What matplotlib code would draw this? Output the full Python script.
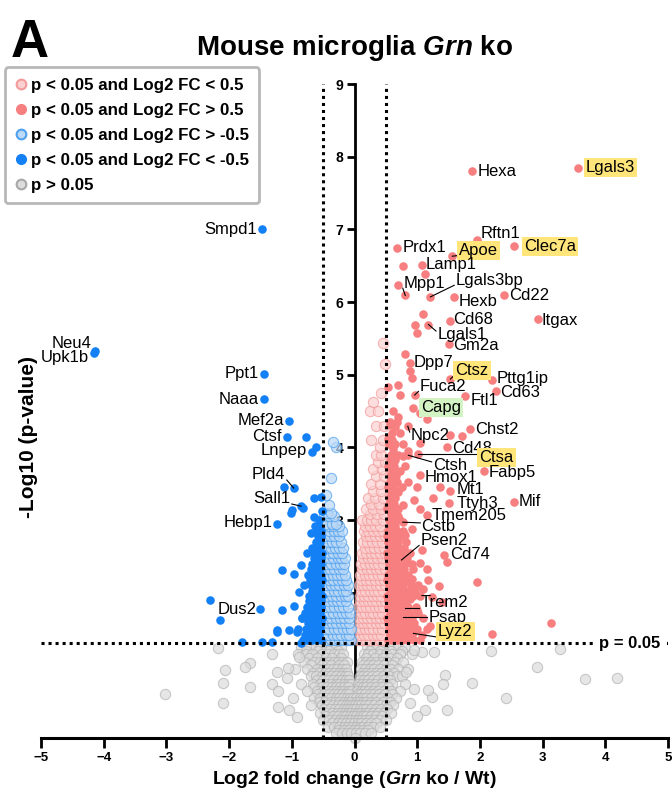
import matplotlib.pyplot as plt
from matplotlib.lines import Line2D

plt.rcParams['font.family'] = ['Liberation Sans', 'DejaVu Sans']
plt.rcParams['mathtext.fontset'] = 'custom'
plt.rcParams['mathtext.rm'] = 'Liberation Sans'
plt.rcParams['mathtext.it'] = 'Liberation Sans:italic'
plt.rcParams['mathtext.bf'] = 'Liberation Sans:bold'
plt.rcParams['mathtext.bfit'] = 'Liberation Sans:italic:bold'

# ---- datos (log2 FC, -log10 p) ----
# p > 0.05
grey_pts = [
    (-0.85, 1.25), (-0.72, 1.25), (-0.62, 1.25), (-0.55, 1.25), (-0.45, 1.25), (-0.38, 1.25), (-0.30, 1.25), (-0.22, 1.25),
    (0.20, 1.25), (0.28, 1.25), (0.36, 1.25), (0.45, 1.25), (0.55, 1.25), (0.62, 1.25), (0.70, 1.25), (0.80, 1.25),
    (-0.78, 1.20), (-0.58, 1.20), (-0.41, 1.20), (-0.27, 1.20), (0.24, 1.20), (0.41, 1.20), (0.58, 1.20), (0.75, 1.20),
    (-0.90, 1.15), (-0.78, 1.15), (-0.68, 1.15), (-0.52, 1.15), (-0.42, 1.15), (-0.33, 1.15), (-0.25, 1.15), (-0.18, 1.15),
    (0.15, 1.15), (0.22, 1.15), (0.30, 1.15), (0.40, 1.15), (0.50, 1.15), (0.60, 1.15), (0.72, 1.15), (0.92, 1.15),
    (-0.72, 1.10), (-0.60, 1.10), (-0.46, 1.10), (-0.36, 1.10), (-0.22, 1.10), (0.19, 1.10), (0.33, 1.10), (0.46, 1.10),
    (0.56, 1.10), (0.68, 1.10),
    (-0.80, 1.05), (-0.65, 1.05), (-0.55, 1.05), (-0.48, 1.05), (-0.40, 1.05), (-0.32, 1.05), (-0.26, 1.05), (-0.20, 1.05),
    (-0.12, 1.05), (0.12, 1.05), (0.18, 1.05), (0.26, 1.05), (0.35, 1.05), (0.44, 1.05), (0.52, 1.05), (0.65, 1.05), (0.78, 1.05),
    (-0.70, 1.00), (-0.52, 1.00), (-0.44, 1.00), (-0.37, 1.00), (-0.24, 1.00), (-0.16, 1.00), (0.14, 1.00), (0.21, 1.00),
    (0.29, 1.00), (0.38, 1.00), (0.47, 1.00), (0.60, 1.00),
    (-0.95, 0.95), (-0.75, 0.95), (-0.60, 0.95), (-0.50, 0.95), (-0.42, 0.95), (-0.35, 0.95), (-0.28, 0.95), (-0.20, 0.95),
    (-0.14, 0.95), (0.10, 0.95), (0.17, 0.95), (0.24, 0.95), (0.31, 0.95), (0.40, 0.95), (0.50, 0.95), (0.58, 0.95),
    (0.70, 0.95), (0.85, 0.95),
    (-0.66, 0.90), (-0.56, 0.90), (-0.47, 0.90), (-0.40, 0.90), (-0.33, 0.90), (-0.25, 0.90), (-0.18, 0.90), (-0.12, 0.90),
    (0.12, 0.90), (0.19, 0.90), (0.26, 0.90), (0.34, 0.90), (0.43, 0.90), (0.52, 0.90), (0.63, 0.90),
    (-0.70, 0.85), (-0.62, 0.85), (-0.52, 0.85), (-0.45, 0.85), (-0.38, 0.85), (-0.30, 0.85), (-0.22, 0.85), (-0.15, 0.85),
    (-0.10, 0.85), (0.08, 0.85), (0.14, 0.85), (0.20, 0.85), (0.28, 0.85), (0.36, 0.85), (0.45, 0.85), (0.55, 0.85),
    (0.68, 0.85), (0.75, 0.85),
    (-0.60, 0.80), (-0.50, 0.80), (-0.42, 0.80), (-0.34, 0.80), (-0.27, 0.80), (-0.20, 0.80), (-0.13, 0.80), (-0.08, 0.80),
    (0.09, 0.80), (0.15, 0.80), (0.22, 0.80), (0.30, 0.80), (0.38, 0.80), (0.47, 0.80), (0.57, 0.80),
    (-0.85, 0.75), (-0.66, 0.75), (-0.55, 0.75), (-0.46, 0.75), (-0.38, 0.75), (-0.30, 0.75), (-0.24, 0.75), (-0.17, 0.75),
    (-0.11, 0.75), (-0.06, 0.75), (0.06, 0.75), (0.12, 0.75), (0.18, 0.75), (0.25, 0.75), (0.33, 0.75), (0.42, 0.75),
    (0.50, 0.75), (0.60, 0.75), (0.80, 0.75),
    (-0.64, 0.70), (-0.52, 0.70), (-0.44, 0.70), (-0.36, 0.70), (-0.29, 0.70), (-0.23, 0.70), (-0.16, 0.70), (-0.10, 0.70),
    (0.07, 0.70), (0.13, 0.70), (0.19, 0.70), (0.27, 0.70), (0.35, 0.70), (0.44, 0.70), (0.54, 0.70),
    (-0.75, 0.65), (-0.60, 0.65), (-0.50, 0.65), (-0.42, 0.65), (-0.35, 0.65), (-0.28, 0.65), (-0.22, 0.65), (-0.16, 0.65),
    (-0.10, 0.65), (-0.05, 0.65), (0.04, 0.65), (0.10, 0.65), (0.15, 0.65), (0.22, 0.65), (0.30, 0.65), (0.38, 0.65),
    (0.47, 0.65), (0.58, 0.65), (0.72, 0.65),
    (-0.58, 0.60), (-0.48, 0.60), (-0.40, 0.60), (-0.33, 0.60), (-0.26, 0.60), (-0.20, 0.60), (-0.14, 0.60), (-0.08, 0.60),
    (0.05, 0.60), (0.11, 0.60), (0.17, 0.60), (0.24, 0.60), (0.31, 0.60), (0.39, 0.60), (0.48, 0.60), (0.60, 0.60),
    (-0.65, 0.55), (-0.55, 0.55), (-0.45, 0.55), (-0.38, 0.55), (-0.30, 0.55), (-0.24, 0.55), (-0.18, 0.55), (-0.12, 0.55),
    (-0.07, 0.55), (-0.02, 0.55), (0.03, 0.55), (0.08, 0.55), (0.13, 0.55), (0.19, 0.55), (0.26, 0.55), (0.34, 0.55),
    (0.43, 0.55), (0.53, 0.55), (0.66, 0.55),
    (-0.57, 0.50), (-0.47, 0.50), (-0.38, 0.50), (-0.31, 0.50), (-0.24, 0.50), (-0.17, 0.50), (-0.11, 0.50), (-0.06, 0.50),
    (0.02, 0.50), (0.07, 0.50), (0.13, 0.50), (0.19, 0.50), (0.27, 0.50), (0.35, 0.50), (0.45, 0.50), (0.56, 0.50),
    (-0.70, 0.45), (-0.52, 0.45), (-0.42, 0.45), (-0.34, 0.45), (-0.27, 0.45), (-0.20, 0.45), (-0.14, 0.45), (-0.09, 0.45),
    (-0.04, 0.45), (0.00, 0.45), (0.05, 0.45), (0.10, 0.45), (0.16, 0.45), (0.23, 0.45), (0.31, 0.45), (0.40, 0.45),
    (0.50, 0.45), (0.62, 0.45),
    (-0.48, 0.40), (-0.39, 0.40), (-0.31, 0.40), (-0.24, 0.40), (-0.17, 0.40), (-0.12, 0.40), (-0.07, 0.40), (-0.02, 0.40),
    (0.03, 0.40), (0.08, 0.40), (0.13, 0.40), (0.19, 0.40), (0.26, 0.40), (0.34, 0.40), (0.43, 0.40), (0.52, 0.40),
    (-0.55, 0.35), (-0.45, 0.35), (-0.36, 0.35), (-0.28, 0.35), (-0.21, 0.35), (-0.15, 0.35), (-0.10, 0.35), (-0.05, 0.35),
    (0.00, 0.35), (0.05, 0.35), (0.10, 0.35), (0.16, 0.35), (0.22, 0.35), (0.30, 0.35), (0.38, 0.35), (0.47, 0.35), (0.58, 0.35),
    (-0.45, 0.30), (-0.35, 0.30), (-0.27, 0.30), (-0.19, 0.30), (-0.13, 0.30), (-0.07, 0.30), (-0.02, 0.30), (0.03, 0.30),
    (0.08, 0.30), (0.13, 0.30), (0.19, 0.30), (0.26, 0.30), (0.35, 0.30), (0.44, 0.30),
    (-0.50, 0.25), (-0.40, 0.25), (-0.31, 0.25), (-0.23, 0.25), (-0.16, 0.25), (-0.10, 0.25), (-0.05, 0.25), (0.00, 0.25),
    (0.05, 0.25), (0.10, 0.25), (0.16, 0.25), (0.23, 0.25), (0.31, 0.25), (0.40, 0.25), (0.50, 0.25),
    (-0.36, 0.20), (-0.27, 0.20), (-0.20, 0.20), (-0.13, 0.20), (-0.07, 0.20), (-0.01, 0.20), (0.05, 0.20), (0.11, 0.20),
    (0.18, 0.20), (0.26, 0.20), (0.35, 0.20),
    (-0.42, 0.15), (-0.32, 0.15), (-0.24, 0.15), (-0.16, 0.15), (-0.10, 0.15), (-0.04, 0.15), (0.02, 0.15), (0.08, 0.15),
    (0.14, 0.15), (0.22, 0.15), (0.30, 0.15), (0.40, 0.15),
    (-0.25, 0.11), (-0.16, 0.11), (-0.08, 0.11), (-0.01, 0.11), (0.06, 0.11), (0.13, 0.11), (0.21, 0.11),
    (-0.30, 0.07), (-0.20, 0.07), (-0.12, 0.07), (-0.05, 0.07), (0.02, 0.07), (0.09, 0.07), (0.17, 0.07), (0.26, 0.07),
    (0.00, 0.00),
    # sueltos
    (-2.18, 1.24), (-2.06, 0.94), (-1.67, 1.03), (-1.75, 0.98), (-2.09, 0.76), (-3.02, 0.60), (-2.09, 0.48),
    (-1.67, 0.70), (-1.31, 0.75), (-1.24, 0.91), (-1.06, 0.96), (-1.31, 1.15), (-1.08, 0.82), (-1.22, 0.64),
    (-1.22, 0.42), (-0.92, 0.29), (-0.88, 1.12), (-0.98, 0.55), (-1.05, 0.38),
    (2.17, 1.20), (3.28, 1.22), (2.91, 0.98), (3.68, 0.81), (4.18, 0.82), (2.41, 0.55), (1.88, 0.76),
    (1.44, 0.87), (1.47, 0.38), (1.13, 0.39), (0.95, 0.68), (1.24, 0.57), (1.41, 0.75), (1.18, 0.66),
    (0.88, 0.48), (0.82, 0.91), (1.08, 1.19), (0.95, 1.21), (1.27, 1.19), (1.00, 0.30),
]

# p < 0.05, 0 < log2 FC < 0.5
pink_faint_pts = [
    (0.06, 1.35), (0.12, 1.35), (0.18, 1.35), (0.25, 1.35), (0.32, 1.35), (0.40, 1.35), (0.47, 1.35),
    (0.09, 1.42), (0.15, 1.42), (0.22, 1.42), (0.29, 1.42), (0.36, 1.42), (0.43, 1.42),
    (0.05, 1.50), (0.11, 1.50), (0.17, 1.50), (0.23, 1.50), (0.30, 1.50), (0.37, 1.50), (0.44, 1.50),
    (0.08, 1.58), (0.14, 1.58), (0.20, 1.58), (0.27, 1.58), (0.34, 1.58), (0.40, 1.58), (0.47, 1.58),
    (0.07, 1.65), (0.14, 1.65), (0.20, 1.65), (0.27, 1.65), (0.34, 1.65), (0.41, 1.65), (0.48, 1.65),
    (0.10, 1.72), (0.17, 1.72), (0.24, 1.72), (0.30, 1.72), (0.37, 1.72), (0.44, 1.72),
    (0.06, 1.80), (0.12, 1.80), (0.18, 1.80), (0.25, 1.80), (0.32, 1.80), (0.39, 1.80), (0.46, 1.80),
    (0.09, 1.88), (0.15, 1.88), (0.22, 1.88), (0.28, 1.88), (0.35, 1.88), (0.42, 1.88), (0.48, 1.88),
    (0.08, 1.95), (0.15, 1.95), (0.22, 1.95), (0.29, 1.95), (0.36, 1.95), (0.43, 1.95),
    (0.10, 2.02), (0.17, 2.02), (0.24, 2.02), (0.31, 2.02), (0.38, 2.02), (0.45, 2.02),
    (0.07, 2.10), (0.13, 2.10), (0.20, 2.10), (0.27, 2.10), (0.34, 2.10), (0.41, 2.10), (0.48, 2.10),
    (0.11, 2.18), (0.18, 2.18), (0.25, 2.18), (0.32, 2.18), (0.40, 2.18), (0.47, 2.18),
    (0.09, 2.25), (0.16, 2.25), (0.23, 2.25), (0.30, 2.25), (0.37, 2.25), (0.44, 2.25),
    (0.12, 2.32), (0.20, 2.32), (0.27, 2.32), (0.34, 2.32), (0.41, 2.32), (0.48, 2.32),
    (0.10, 2.40), (0.17, 2.40), (0.24, 2.40), (0.31, 2.40), (0.38, 2.40), (0.46, 2.40),
    (0.14, 2.48), (0.21, 2.48), (0.28, 2.48), (0.36, 2.48), (0.44, 2.48),
    (0.12, 2.55), (0.19, 2.55), (0.26, 2.55), (0.33, 2.55), (0.41, 2.55), (0.48, 2.55),
    (0.16, 2.62), (0.24, 2.62), (0.31, 2.62), (0.39, 2.62), (0.47, 2.62),
    (0.13, 2.70), (0.20, 2.70), (0.28, 2.70), (0.36, 2.70), (0.44, 2.70),
    (0.18, 2.78), (0.25, 2.78), (0.33, 2.78), (0.41, 2.78), (0.48, 2.78),
    (0.15, 2.85), (0.22, 2.85), (0.30, 2.85), (0.38, 2.85), (0.46, 2.85),
    (0.17, 2.92), (0.24, 2.92), (0.32, 2.92), (0.40, 2.92),
    (0.12, 3.00), (0.20, 3.00), (0.27, 3.00), (0.35, 3.00), (0.45, 3.00),
    (0.24, 3.08), (0.36, 3.08), (0.47, 3.08),
    (0.18, 3.15), (0.30, 3.15), (0.42, 3.15), (0.27, 3.22), (0.39, 3.22),
    (0.22, 3.30), (0.33, 3.30), (0.46, 3.30), (0.30, 3.40), (0.43, 3.40),
    (0.26, 3.50), (0.40, 3.50), (0.35, 3.60), (0.47, 3.60), (0.30, 3.70), (0.44, 3.70),
    (0.38, 3.80), (0.48, 3.80), (0.34, 3.90), (0.42, 3.90), (0.40, 4.00),
    (0.27, 4.10), (0.46, 4.10), (0.35, 4.30), (0.47, 4.30), (0.24, 4.50), (0.38, 4.50), (0.29, 4.62),
    (0.42, 4.75), (0.48, 5.15), (0.45, 5.43),
]

# p < 0.05, log2 FC > 0.5
pink_pts = [
    (0.53, 1.35), (0.60, 1.35), (0.68, 1.35), (0.76, 1.35), (0.85, 1.35), (0.95, 1.35), (1.05, 1.35),
    (0.57, 1.42), (0.64, 1.42), (0.72, 1.42), (0.80, 1.42), (0.90, 1.42),
    (0.55, 1.50), (0.62, 1.50), (0.70, 1.50), (0.78, 1.50), (0.88, 1.50), (1.00, 1.50), (1.15, 1.50),
    (0.53, 1.58), (0.60, 1.58), (0.66, 1.58), (0.74, 1.58), (0.83, 1.58), (0.95, 1.58),
    (0.52, 1.65), (0.58, 1.65), (0.65, 1.65), (0.73, 1.65), (0.82, 1.65), (0.92, 1.65), (1.10, 1.65),
    (0.56, 1.72), (0.62, 1.72), (0.70, 1.72), (0.79, 1.72), (0.88, 1.72), (1.02, 1.72),
    (0.54, 1.80), (0.60, 1.80), (0.68, 1.80), (0.76, 1.80), (0.86, 1.80), (0.98, 1.80),
    (0.53, 1.88), (0.58, 1.88), (0.65, 1.88), (0.73, 1.88), (0.82, 1.88),
    (0.52, 1.95), (0.57, 1.95), (0.64, 1.95), (0.72, 1.95), (0.80, 1.95), (0.93, 1.95), (1.05, 1.95),
    (0.56, 2.02), (0.61, 2.02), (0.68, 2.02), (0.76, 2.02), (0.86, 2.02), (0.97, 2.02),
    (0.55, 2.10), (0.62, 2.10), (0.70, 2.10), (0.78, 2.10), (0.90, 2.10), (1.02, 2.10),
    (0.52, 2.18), (0.58, 2.18), (0.66, 2.18), (0.74, 2.18), (0.83, 2.18),
    (0.53, 2.25), (0.59, 2.25), (0.66, 2.25), (0.74, 2.25), (0.85, 2.25),
    (0.56, 2.32), (0.63, 2.32), (0.70, 2.32), (0.79, 2.32),
    (0.55, 2.40), (0.62, 2.40), (0.70, 2.40), (0.80, 2.40), (0.92, 2.40),
    (0.53, 2.48), (0.59, 2.48), (0.66, 2.48), (0.74, 2.48), (0.84, 2.48),
    (0.52, 2.55), (0.58, 2.55), (0.66, 2.55), (0.75, 2.55), (0.88, 2.55),
    (0.56, 2.62), (0.62, 2.62), (0.70, 2.62), (0.79, 2.62),
    (0.54, 2.70), (0.61, 2.70), (0.70, 2.70), (0.82, 2.70),
    (0.52, 2.78), (0.58, 2.78), (0.65, 2.78), (0.74, 2.78),
    (0.53, 2.85), (0.60, 2.85), (0.68, 2.85), (0.78, 2.85), (0.56, 2.92), (0.64, 2.92),
    (0.55, 3.00), (0.63, 3.00), (0.72, 3.00), (0.58, 3.08), (0.66, 3.08),
    (0.52, 3.15), (0.60, 3.15), (0.70, 3.15), (0.55, 3.22), (0.63, 3.22),
    (0.55, 3.30), (0.65, 3.30), (0.58, 3.38), (0.70, 3.38),
    (0.53, 3.45), (0.62, 3.45), (0.75, 3.45), (0.56, 3.52), (0.68, 3.52),
    (0.56, 3.60), (0.66, 3.60), (0.60, 3.68), (0.72, 3.68),
    (0.54, 3.75), (0.63, 3.75), (0.80, 3.75), (0.56, 3.82), (0.65, 3.82),
    (0.58, 3.90), (0.70, 3.90), (0.62, 3.98), (0.55, 4.05), (0.65, 4.05), (0.78, 4.05), (0.53, 4.12),
    (0.60, 4.20), (0.72, 4.20), (0.64, 4.28), (0.57, 4.35), (0.68, 4.35), (0.62, 4.50),
    (0.77, 6.49), (1.13, 6.39), (0.69, 6.23), (1.10, 5.83), (0.96, 5.69), (1.00, 5.58), (0.80, 5.28),
    (0.88, 5.05), (0.91, 4.95), (0.70, 4.86), (0.53, 4.83), (0.73, 4.72), (1.05, 4.47), (1.16, 4.39),
    (0.69, 4.42), (0.57, 4.31), (1.53, 4.17), (1.71, 4.15), (0.60, 4.10), (1.05, 4.06), (0.77, 3.88),
    (0.85, 3.95), (0.86, 3.52), (0.65, 3.41), (1.37, 3.45), (0.95, 3.28), (1.05, 3.15), (0.78, 3.20),
    (0.70, 3.05), (1.25, 3.30), (1.00, 3.45),
    (0.91, 2.87), (0.80, 2.80), (1.07, 2.59), (1.48, 2.42), (1.05, 2.41), (0.94, 2.33), (1.16, 2.32),
    (0.91, 2.19), (1.18, 2.17), (1.34, 2.09), (1.95, 2.15), (1.10, 2.05), (0.89, 1.91), (1.24, 1.94),
    (1.40, 1.87), (1.00, 1.76), (1.20, 1.54), (1.08, 1.42), (1.42, 1.42), (2.20, 1.43), (3.14, 1.58),
    (0.88, 1.55),
]

# p < 0.05, -0.5 < log2 FC < 0
blue_faint_pts = [
    (-0.45, 1.35), (-0.38, 1.35), (-0.31, 1.35), (-0.24, 1.35), (-0.17, 1.35), (-0.10, 1.35), (-0.05, 1.35),
    (-0.42, 1.42), (-0.35, 1.42), (-0.28, 1.42), (-0.21, 1.42), (-0.14, 1.42), (-0.08, 1.42),
    (-0.47, 1.50), (-0.40, 1.50), (-0.33, 1.50), (-0.26, 1.50), (-0.19, 1.50), (-0.12, 1.50), (-0.06, 1.50),
    (-0.43, 1.58), (-0.36, 1.58), (-0.29, 1.58), (-0.22, 1.58), (-0.15, 1.58), (-0.08, 1.58),
    (-0.44, 1.65), (-0.37, 1.65), (-0.30, 1.65), (-0.23, 1.65), (-0.16, 1.65), (-0.09, 1.65),
    (-0.48, 1.72), (-0.41, 1.72), (-0.34, 1.72), (-0.27, 1.72), (-0.20, 1.72), (-0.13, 1.72), (-0.07, 1.72),
    (-0.46, 1.80), (-0.39, 1.80), (-0.32, 1.80), (-0.25, 1.80), (-0.18, 1.80), (-0.11, 1.80),
    (-0.42, 1.88), (-0.35, 1.88), (-0.28, 1.88), (-0.21, 1.88), (-0.14, 1.88),
    (-0.43, 1.95), (-0.36, 1.95), (-0.29, 1.95), (-0.22, 1.95), (-0.15, 1.95), (-0.10, 1.95),
    (-0.47, 2.02), (-0.40, 2.02), (-0.33, 2.02), (-0.26, 2.02), (-0.19, 2.02), (-0.13, 2.02),
    (-0.45, 2.10), (-0.38, 2.10), (-0.31, 2.10), (-0.24, 2.10), (-0.17, 2.10), (-0.11, 2.10),
    (-0.41, 2.18), (-0.34, 2.18), (-0.27, 2.18), (-0.20, 2.18), (-0.13, 2.18),
    (-0.42, 2.25), (-0.35, 2.25), (-0.28, 2.25), (-0.21, 2.25), (-0.15, 2.25),
    (-0.46, 2.32), (-0.39, 2.32), (-0.32, 2.32), (-0.25, 2.32), (-0.18, 2.32),
    (-0.44, 2.40), (-0.37, 2.40), (-0.30, 2.40), (-0.23, 2.40), (-0.17, 2.40),
    (-0.41, 2.48), (-0.34, 2.48), (-0.27, 2.48), (-0.21, 2.48), (-0.15, 2.48),
    (-0.41, 2.55), (-0.34, 2.55), (-0.27, 2.55), (-0.20, 2.55),
    (-0.46, 2.62), (-0.38, 2.62), (-0.31, 2.62), (-0.24, 2.62), (-0.18, 2.62),
    (-0.43, 2.70), (-0.36, 2.70), (-0.29, 2.70), (-0.22, 2.70),
    (-0.47, 2.78), (-0.39, 2.78), (-0.32, 2.78), (-0.25, 2.78),
    (-0.40, 2.85), (-0.33, 2.85), (-0.26, 2.85), (-0.20, 2.85),
    (-0.41, 2.92), (-0.34, 2.92), (-0.25, 2.92),
    (-0.45, 2.95), (-0.36, 2.95), (-0.30, 2.95), (-0.48, 3.05), (-0.41, 3.05), (-0.33, 3.05),
    (-0.44, 3.10), (-0.38, 3.10), (-0.40, 3.20),
    (-0.46, 3.35), (-0.38, 3.58), (-0.30, 4.00), (-0.35, 4.07),
]

# p < 0.05, log2 FC < -0.5
blue_pts = [
    (-0.53, 1.35), (-0.60, 1.35), (-0.67, 1.35), (-0.75, 1.35), (-0.82, 1.35),
    (-0.56, 1.42), (-0.64, 1.42), (-0.71, 1.42), (-0.79, 1.42),
    (-0.55, 1.50), (-0.62, 1.50), (-0.70, 1.50), (-0.78, 1.50), (-0.90, 1.50),
    (-0.53, 1.58), (-0.59, 1.58), (-0.67, 1.58), (-0.74, 1.58),
    (-0.52, 1.65), (-0.58, 1.65), (-0.65, 1.65), (-0.73, 1.65), (-0.83, 1.65),
    (-0.55, 1.72), (-0.62, 1.72), (-0.70, 1.72), (-0.79, 1.72),
    (-0.54, 1.80), (-0.60, 1.80), (-0.68, 1.80), (-0.76, 1.80), (-0.97, 1.82),
    (-0.53, 1.88), (-0.58, 1.88), (-0.65, 1.88), (-0.72, 1.88),
    (-0.52, 1.95), (-0.57, 1.95), (-0.64, 1.95), (-0.72, 1.95), (-0.89, 2.01),
    (-0.55, 2.02), (-0.61, 2.02), (-0.68, 2.02),
    (-0.55, 2.10), (-0.61, 2.10), (-0.69, 2.10), (-0.80, 2.10),
    (-0.52, 2.18), (-0.58, 2.18), (-0.64, 2.18), (-0.71, 2.18),
    (-0.53, 2.25), (-0.59, 2.25), (-0.66, 2.25), (-0.74, 2.25),
    (-0.55, 2.32), (-0.62, 2.32), (-0.70, 2.32),
    (-0.54, 2.40), (-0.60, 2.40), (-0.68, 2.40), (-0.53, 2.48), (-0.58, 2.48), (-0.64, 2.48), (-0.75, 2.54),
    (-0.52, 2.55), (-0.58, 2.55), (-0.65, 2.55), (-0.55, 2.62), (-0.61, 2.62), (-0.68, 2.62),
    (-0.55, 2.70), (-0.62, 2.70), (-0.53, 2.78), (-0.59, 2.78), (-0.70, 2.82),
    (-0.53, 2.85), (-0.60, 2.85), (-0.56, 2.92), (-0.63, 2.92), (-0.56, 3.00), (-0.65, 3.04), (-0.52, 3.12),
    (-0.77, 4.14), (-0.61, 4.00), (-1.13, 3.45), (-0.99, 3.14), (-1.02, 3.10), (-0.82, 3.16),
    (-0.65, 3.30), (-0.54, 3.32), (-2.31, 1.90), (-2.15, 1.62), (-1.80, 1.32), (-1.48, 1.32),
    (-1.32, 1.32), (-1.24, 1.46), (-1.23, 1.49), (-1.15, 1.76), (-1.05, 1.49), (-0.91, 1.46),
    (-0.86, 1.31), (-1.15, 2.31), (-0.97, 2.26), (-0.85, 2.38), (-0.83, 1.65),
]

# genes marcados
genes = ['Lgals3', 'Hexa', 'Rftn1', 'Clec7a', 'Prdx1', 'Apoe', 'Lamp1', 'Lgals3bp', 'Mpp1', 'Hexb',
         'Cd22', 'Itgax', 'Cd68', 'Lgals1', 'Gm2a', 'Dpp7', 'Ctsz', 'Pttg1ip', 'Cd63', 'Ftl1',
         'Fuca2', 'Capg', 'Npc2', 'Chst2', 'Cd48', 'Ctsa', 'Ctsh', 'Hmox1', 'Fabp5', 'Mt1',
         'Ttyh3', 'Mif', 'Tmem205', 'Cstb', 'Psen2', 'Cd74', 'Trem2', 'Psap', 'Lyz2',
         'Smpd1', 'Neu4', 'Upk1b', 'Ppt1', 'Naaa', 'Mef2a', 'Ctsf', 'Lnpep', 'Pld4', 'Sall1',
         'Hebp1', 'Dus2']
genes_fc = [3.57, 1.87, 1.95, 2.55, 0.68, 1.56, 1.07, 1.21, 0.81, 1.59,
            2.38, 2.92, 1.52, 1.18, 1.50, 0.88, 1.53, 2.20, 2.26, 1.77,
            0.96, 0.94, 0.85, 1.85, 1.48, 1.02, 0.86, 1.04, 2.07, 1.53,
            1.50, 2.54, 1.16, 0.77, 0.75, 1.42, 0.81, 0.78, 0.94,
            -1.47, -4.16, -4.14, -1.44, -1.44, -1.04, -1.08, -0.67, -0.97, -0.85,
            -1.24, -1.50]
genes_p = [7.85, 7.80, 6.86, 6.77, 6.75, 6.63, 6.51, 6.07, 6.09, 6.07,
           6.09, 5.76, 5.74, 5.69, 5.42, 5.16, 4.94, 4.92, 4.77, 4.70,
           4.72, 4.54, 4.29, 4.25, 4.00, 3.91, 3.89, 3.62, 3.67, 3.40,
           3.24, 3.25, 3.07, 2.97, 2.45, 2.52, 1.79, 1.66, 1.44,
           7.00, 5.30, 5.32, 5.01, 4.66, 4.36, 4.14, 3.93, 3.44, 3.19,
           2.94, 1.77]
resaltado = {'Lgals3': '#FFE57A', 'Clec7a': '#FFE57A', 'Apoe': '#FFE57A', 'Ctsz': '#FFE57A',
             'Ctsa': '#FFE57A', 'Lyz2': '#FFE57A', 'Capg': '#D4F3C4'}

# posicion del texto de cada etiqueta y si lleva linea
etiquetas = {
    'Lgals3': (3.69, 7.85, False), 'Hexa': (1.96, 7.80, False), 'Rftn1': (2.01, 6.94, False),
    'Clec7a': (2.71, 6.77, False), 'Prdx1': (0.76, 6.75, False), 'Apoe': (1.67, 6.71, True),
    'Lamp1': (1.14, 6.51, False), 'Lgals3bp': (1.61, 6.30, True), 'Mpp1': (0.79, 6.26, True),
    'Hexb': (1.66, 6.01, False), 'Cd22': (2.46, 6.09, False), 'Itgax': (2.98, 5.75, False),
    'Cd68': (1.58, 5.76, False), 'Lgals1': (1.32, 5.55, True), 'Gm2a': (1.58, 5.40, False),
    'Dpp7': (0.95, 5.17, False), 'Ctsz': (1.61, 5.06, True), 'Pttg1ip': (2.27, 4.95, False),
    'Cd63': (2.33, 4.76, False), 'Ftl1': (1.85, 4.64, False), 'Fuca2': (1.04, 4.84, True),
    'Capg': (1.06, 4.55, False), 'Npc2': (0.90, 4.16, True), 'Chst2': (1.92, 4.24, False),
    'Cd48': (1.56, 3.99, False), 'Ctsa': (1.99, 3.86, True), 'Ctsh': (1.25, 3.75, True),
    'Hmox1': (1.12, 3.59, False), 'Fabp5': (2.14, 3.65, False), 'Mt1': (1.63, 3.42, False),
    'Ttyh3': (1.63, 3.23, False), 'Mif': (2.62, 3.25, False), 'Tmem205': (1.23, 3.06, False),
    'Cstb': (1.07, 2.91, True), 'Psen2': (1.05, 2.72, True), 'Cd74': (1.52, 2.52, False),
    'Trem2': (1.05, 1.86, True), 'Psap': (1.18, 1.66, True), 'Lyz2': (1.33, 1.46, True),
    'Smpd1': (-1.56, 7.00, False), 'Neu4': (-4.19, 5.43, False), 'Upk1b': (-4.24, 5.24, False),
    'Ppt1': (-1.53, 5.01, False), 'Naaa': (-1.53, 4.66, False), 'Mef2a': (-1.12, 4.37, False),
    'Ctsf': (-1.16, 4.15, False), 'Lnpep': (-0.76, 3.95, False), 'Pld4': (-1.10, 3.62, True),
    'Sall1': (-1.02, 3.29, True), 'Hebp1': (-1.31, 2.96, False), 'Dus2': (-1.56, 1.77, False),
}

c_pink = '#F77F80'
c_blue = '#1380F5'

fig = plt.figure(figsize=(6.72, 7.94), dpi=100)
ax = fig.add_axes([41 / 672, 1 - 738 / 794, 627 / 672, 654 / 794])

# Nubes de puntos
ax.scatter([p[0] for p in grey_pts], [p[1] for p in grey_pts], s=55, facecolor='#DCDCDC',
           edgecolor='#B4B4B4', linewidth=0.8, alpha=0.7, zorder=1, clip_on=False)
ax.scatter([p[0] for p in pink_faint_pts], [p[1] for p in pink_faint_pts], s=55, facecolor='#FBD0D0',
           edgecolor='#F49A9A', linewidth=0.8, alpha=0.7, zorder=2)
ax.scatter([p[0] for p in blue_faint_pts], [p[1] for p in blue_faint_pts], s=55, facecolor='#BCD9F7',
           edgecolor='#4FA0EE', linewidth=0.8, alpha=0.7, zorder=2)
ax.scatter([p[0] for p in pink_pts], [p[1] for p in pink_pts], s=38, color=c_pink, linewidth=0, zorder=3)
ax.scatter([p[0] for p in blue_pts], [p[1] for p in blue_pts], s=38, color=c_blue, linewidth=0, zorder=3)
ax.scatter([f for f in genes_fc if f > 0], [p for f, p in zip(genes_fc, genes_p) if f > 0],
           s=38, color=c_pink, linewidth=0, zorder=3)
ax.scatter([f for f in genes_fc if f < 0], [p for f, p in zip(genes_fc, genes_p) if f < 0],
           s=38, color=c_blue, linewidth=0, zorder=3)

# Lineas de corte
ax.axhline(1.301, color='black', linestyle=(0, (1, 1.3)), linewidth=2.2, zorder=4)
ax.vlines([-0.5, 0.5], 0, 9, color='black', linestyle=(0, (1, 1.3)), linewidth=2.2, zorder=4)
ax.text(4.88, 1.301, 'p = 0.05', ha='right', va='center', fontsize=12, fontweight='bold', zorder=6,
        bbox=dict(boxstyle='square,pad=0.2', fc='white', ec='none'))

# Etiquetas de genes
for g, f, p in zip(genes, genes_fc, genes_p):
    tx, ty, linea = etiquetas[g]
    ha = 'left' if f > 0 else 'right'
    if linea:
        ax.plot([f, tx - 0.02 if f > 0 else tx + 0.02], [p, ty + (-0.07 if ty > p else (0.05 if ty < p else 0))],
                color='black', linewidth=0.8, zorder=5)
    bbox = None
    if g in resaltado:
        bbox = dict(boxstyle='square,pad=0.12', fc=resaltado[g], ec='none')
    ax.text(tx, ty, g, ha=ha, va='center', fontsize=12, zorder=6, bbox=bbox)

# Ejes
ax.set_xlim(-5, 5)
ax.set_ylim(0, 9)
ax.spines['top'].set_visible(False)
ax.spines['right'].set_visible(False)
ax.spines['left'].set_position(('data', 0))
ax.spines['left'].set_linewidth(2)
ax.spines['left'].set_zorder(0.5)
ax.spines['bottom'].set_linewidth(2.2)
ax.set_xticks(range(-5, 6))
ax.set_yticks(range(2, 10))
ax.tick_params(axis='x', length=7, width=2, labelsize=9.5, pad=3)
ax.tick_params(axis='y', length=6, width=2, labelsize=10, pad=2)
for lbl in ax.get_xticklabels() + ax.get_yticklabels():
    lbl.set_fontweight('bold')

fig.text(0.042, 0.45, '-Log10 (p-value)', rotation=90, ha='center', va='center', fontsize=15, fontweight='bold')
fig.text(0.527, 0.018, r'Log2 fold change ($\mathbfit{Grn}$ ko / Wt)', ha='center', va='center',
         fontsize=14, fontweight='bold')
fig.text(0.528, 0.94, r'Mouse microglia $\mathbfit{Grn}$ ko', ha='center', va='center', fontsize=20,
         fontweight='bold')
fig.text(0.016, 0.928, 'A', ha='left', va='baseline', fontsize=38, fontweight='bold')

# Leyenda
handles = [
    Line2D([], [], linestyle='none', marker='o', markersize=7, mfc='#FBD0D0', mec='#F49A9A', mew=1.5),
    Line2D([], [], linestyle='none', marker='o', markersize=7, mfc=c_pink, mec=c_pink),
    Line2D([], [], linestyle='none', marker='o', markersize=7, mfc='#BCD9F7', mec='#4FA0EE', mew=1.5),
    Line2D([], [], linestyle='none', marker='o', markersize=7, mfc=c_blue, mec=c_blue),
    Line2D([], [], linestyle='none', marker='o', markersize=7, mfc='#DCDCDC', mec='#A8A8A8', mew=1.5),
]
textos = ['p < 0.05 and Log2 FC < 0.5', 'p < 0.05 and Log2 FC > 0.5', 'p < 0.05 and Log2 FC > -0.5',
          'p < 0.05 and Log2 FC < -0.5', 'p > 0.05']
leg = fig.legend(handles, textos, loc='upper left', bbox_to_anchor=(0.007, 0.915),
                 prop={'size': 12.2, 'weight': 'bold'}, handlelength=0.7, handletextpad=0.25,
                 labelspacing=0.6, borderpad=0.6, borderaxespad=0, frameon=True, fancybox=True)
leg.get_frame().set_edgecolor('#A6A6A6')
leg.get_frame().set_linewidth(2)

fig.savefig('out.png', dpi=100)
